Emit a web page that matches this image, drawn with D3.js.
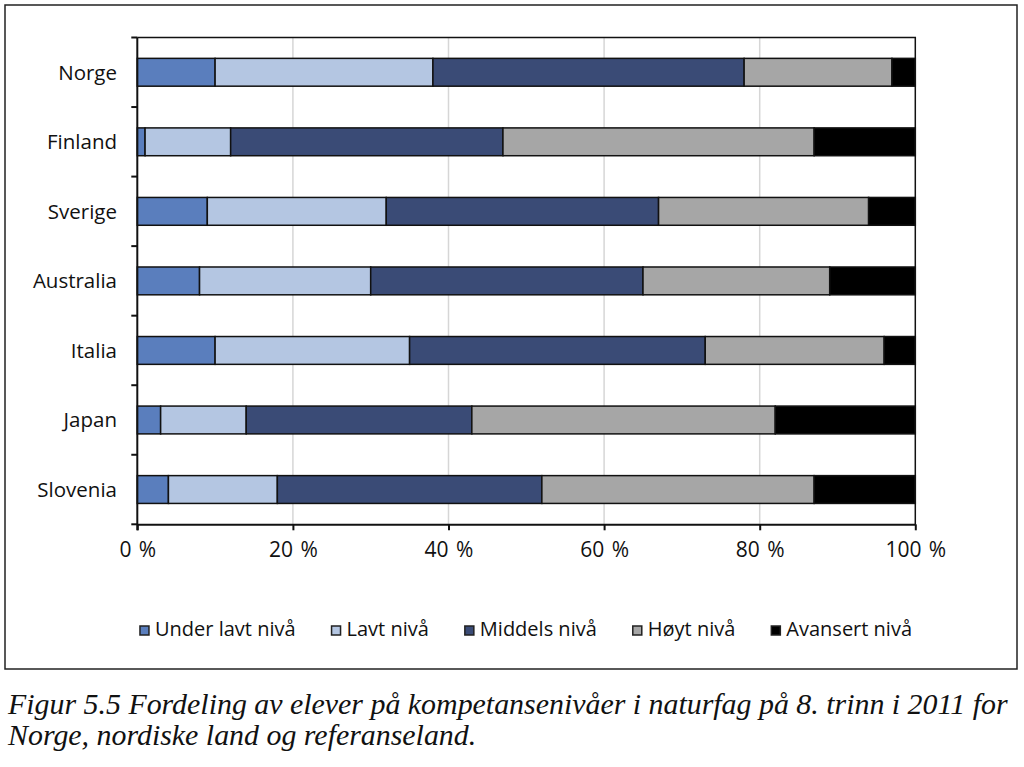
<!DOCTYPE html>
<html><head><meta charset="utf-8">
<script src="https://cdn.jsdelivr.net/npm/d3@7"></script>
<style>html,body{margin:0;padding:0;background:#fff;}</style>
</head><body>
<svg id="chart" width="1024" height="767"></svg>
<script>
const categories = ["Norge","Finland","Sverige","Australia","Italia","Japan","Slovenia"];
const seriesNames = ["Under lavt nivå","Lavt nivå","Middels nivå","Høyt nivå","Avansert nivå"];
const underLavt = [10, 1, 9, 8, 10, 3, 4];
const lavt      = [28, 11, 23, 22, 25, 11, 14];
const middels   = [40, 35, 35, 35, 38, 29, 34];
const hoyt      = [19, 40, 27, 24, 23, 39, 35];
const avansert  = [3, 13, 6, 11, 4, 18, 13];
const xTicks = [0, 20, 40, 60, 80, 100];
const caption = ["Figur 5.5 Fordeling av elever på kompetansenivåer i naturfag på 8. trinn i 2011 for",
                 "Norge, nordiske land og referanseland."];

(function () {
const colors = ["#5a7ebd", "#b4c6e2", "#3a4b76", "#a6a6a6", "#000000"];
const seriesValues = [underLavt, lavt, middels, hoyt, avansert];
const rows = categories.map((c, i) => {
  const r = {cat: c};
  seriesNames.forEach((s, j) => r[s] = seriesValues[j][i]);
  return r;
});
const stack = d3.stack().keys(seriesNames)(rows);

const svg = d3.select("#chart");
const font = "'Open Sans', sans-serif";

// outer frame
svg.append("rect").attr("x", 5).attr("y", 5).attr("width", 1012).attr("height", 664)
  .attr("fill", "none").attr("stroke", "#222").attr("stroke-width", 1.5);

const pL = 137.3, pR = 915.3, pT = 37.5, pB = 524.3;
const x = d3.scaleLinear().domain([0, 100]).range([pL, pR]);
const y = d3.scaleBand().domain(categories).range([pT, pB]).paddingInner(0.6).paddingOuter(0.3);

// gridlines
svg.append("g").selectAll("line").data(xTicks.filter(t => t > 0 && t < 100)).join("line")
  .attr("x1", d => x(d)).attr("x2", d => x(d)).attr("y1", pT).attr("y2", pB)
  .attr("stroke", "#d6d6d6").attr("stroke-width", 1.5);

// bars
svg.append("g").selectAll("g").data(stack).join("g")
  .attr("fill", (d, i) => colors[i])
  .selectAll("rect").data(d => d).join("rect")
  .attr("x", d => x(d[0])).attr("width", d => x(d[1]) - x(d[0]))
  .attr("y", d => y(d.data.cat)).attr("height", y.bandwidth())
  .attr("stroke", "#111").attr("stroke-width", 1.5);

// plot border (top, right)
svg.append("path").attr("d", `M${pL},${pT}H${pR}V${pB}`)
  .attr("fill", "none").attr("stroke", "#111").attr("stroke-width", 1.5);

// x axis
const xAxis = svg.append("g").attr("transform", `translate(0,${pB})`)
  .call(d3.axisBottom(x).tickValues(xTicks).tickFormat(d => d + " %").tickSize(6).tickSizeOuter(0));
xAxis.select(".domain").attr("stroke", "#111").attr("stroke-width", 2);
xAxis.selectAll(".tick line").attr("stroke", "#111").attr("stroke-width", 2);
xAxis.selectAll("text").attr("font-family", font).attr("font-size", 21).attr("fill", "#111")
  .attr("y", 18).attr("dy", "0.71em").attr("word-spacing", "2px");

// y axis with ticks at band boundaries
const yAxisG = svg.append("g");
yAxisG.append("line").attr("x1", pL).attr("x2", pL).attr("y1", pT).attr("y2", pB + 6)
  .attr("stroke", "#111").attr("stroke-width", 2);
const step = y.step();
const bounds = d3.range(categories.length + 1).map(i => pT + i * step);
yAxisG.selectAll("line.t").data(bounds).join("line").attr("class", "t")
  .attr("x1", pL - 6).attr("x2", pL).attr("y1", d => d).attr("y2", d => d)
  .attr("stroke", "#111").attr("stroke-width", 2);
yAxisG.selectAll("text").data(categories).join("text")
  .attr("x", 117).attr("y", d => y(d) + y.bandwidth() / 2).attr("dy", "0.36em")
  .attr("text-anchor", "end").attr("font-family", font).attr("font-size", 20.5).attr("fill", "#111")
  .text(d => d);

// legend
const leg = svg.append("g");
let cx = 0;
seriesNames.forEach((s, i) => {
  const g = leg.append("g");
  g.append("rect").attr("x", 0).attr("y", -10).attr("width", 9).attr("height", 9)
    .attr("fill", colors[i]).attr("stroke", "#222").attr("stroke-width", 1.5);
  const t = g.append("text").attr("x", 15).attr("y", 0).attr("font-family", font)
    .attr("font-size", 20).attr("fill", "#111").text(s);
  const w = 15 + t.node().getComputedTextLength();
  g.attr("transform", `translate(${cx},636)`);
  cx += w + 36;
});
const totalW = cx - 36;
leg.attr("transform", `translate(${526 - totalW / 2},0)`);

// caption
const cap = svg.append("g");
const capFont = "'Liberation Serif', 'DejaVu Serif', serif";
const l1 = cap.append("text").attr("x", 8).attr("y", 714).attr("font-family", capFont)
  .attr("font-style", "italic").attr("font-size", 26).attr("fill", "#111").text(caption[0]);
const w1 = l1.node().getComputedTextLength();
const fs = 26 * (1000 / w1);
l1.attr("font-size", fs);
cap.append("text").attr("x", 8).attr("y", 745).attr("font-family", capFont)
  .attr("font-style", "italic").attr("font-size", fs).attr("fill", "#111").text(caption[1]);
})();
</script>
</body></html>
